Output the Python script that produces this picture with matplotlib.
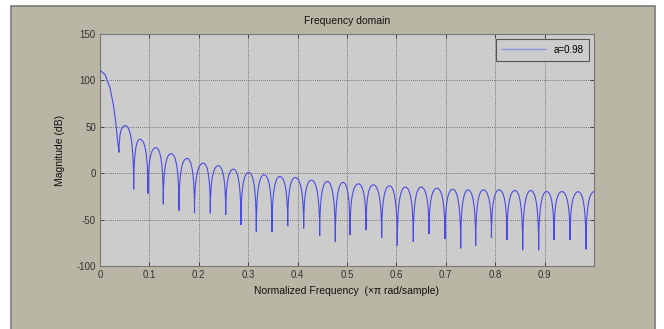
import matplotlib
matplotlib.use("Agg")
import matplotlib.pyplot as plt
from matplotlib.path import Path
from matplotlib.patches import PathPatch, Rectangle
from matplotlib.lines import Line2D

plt.rcParams['font.family'] = ['Liberation Sans', 'DejaVu Sans']
plt.rcParams['axes.unicode_minus'] = False

# main lobe, read point by point (normalized freq, dB)
main_f = [0.0, 0.0101, 0.0202, 0.027, 0.0317, 0.0358]
main_db = [110.8, 106.5, 92.0, 74.0, 56.0, 34.0]

# nulls between side lobes
null_f = [0.0385, 0.0682, 0.0972, 0.1281, 0.1599, 0.1913, 0.2233, 0.2545,
          0.2854, 0.3164, 0.3482, 0.3800, 0.4123, 0.4447, 0.4763, 0.5061,
          0.5385, 0.5702, 0.6018, 0.6342, 0.6660, 0.6984, 0.7302, 0.7605,
          0.7925, 0.8239, 0.8557, 0.8880, 0.9190, 0.9514, 0.9838]
null_db = [22.4, -17.3, -22.0, -33.5, -40.4, -43.0, -43.3, -45.0,
           -55.8, -63.0, -63.0, -57.0, -59.5, -67.7, -74.0, -66.7,
           -61.3, -69.6, -78.2, -74.0, -65.6, -71.0, -81.0, -78.2,
           -69.6, -72.0, -83.0, -83.0, -72.0, -72.0, -82.0]

# side lobe tops (last one is the half lobe ending at 1)
peak_f = [0.051, 0.081, 0.113, 0.144, 0.176, 0.209, 0.2395, 0.270,
          0.301, 0.332, 0.364, 0.395, 0.428, 0.460, 0.492, 0.523,
          0.553, 0.586, 0.618, 0.650, 0.682, 0.714, 0.745, 0.776,
          0.808, 0.840, 0.872, 0.904, 0.935, 0.968, 1.0]
peak_db = [51.3, 36.5, 27.5, 21.0, 15.9, 10.8, 8.0, 4.3,
           0.8, -1.7, -3.6, -4.7, -7.6, -9.0, -10.0, -11.5,
           -12.6, -13.6, -15.0, -15.0, -16.2, -17.3, -18.0, -18.0,
           -18.0, -18.7, -18.7, -19.8, -19.8, -20.0, -20.0]

line_col = '#4b4be6'
panel_col = '#b9b6a5'

fig = plt.figure(figsize=(6.64, 3.29), dpi=100, facecolor='white')
panel = Rectangle((11 / 664, -0.05), 644 / 664, 1 - 6 / 329 + 0.05,
                  transform=fig.transFigure, facecolor=panel_col,
                  edgecolor='#7a7a7a', linewidth=1.2)
panel.set_zorder(-10)
fig.add_artist(panel)

ax = fig.add_axes([100 / 664, 1 - 266 / 329, 494 / 664, 232 / 329])
ax.set_zorder(1)
ax.set_facecolor('#cccccc')

# build the curve: straight steps over the main lobe, arches for the side lobes
k, m = 0.72, 0.38
verts = [(main_f[0], main_db[0])]
codes = [Path.MOVETO]
for f, d in zip(main_f[1:], main_db[1:]):
    verts.append((f, d))
    codes.append(Path.LINETO)
verts.append((null_f[0], null_db[0]))
codes.append(Path.LINETO)
for i in range(len(peak_f)):
    xn, yn = null_f[i], null_db[i]
    xp, yp = peak_f[i], peak_db[i]
    verts += [(xn, yn + k * (yp - yn)), (xn + m * (xp - xn), yp), (xp, yp)]
    codes += [Path.CURVE4] * 3
    if i + 1 < len(null_f):
        xn, yn = null_f[i + 1], null_db[i + 1]
        verts += [(xn + m * (xp - xn), yp), (xn, yn + k * (yp - yn)), (xn, yn)]
        codes += [Path.CURVE4] * 3

ax.add_patch(PathPatch(Path(verts, codes), facecolor='none',
                       edgecolor=line_col, linewidth=0.8, zorder=3))

ax.set_xlim(0, 1)
ax.set_ylim(-100, 150)
ax.set_xticks([0, 0.1, 0.2, 0.3, 0.4, 0.5, 0.6, 0.7, 0.8, 0.9])
ax.set_xticklabels(['0', '0.1', '0.2', '0.3', '0.4', '0.5', '0.6', '0.7', '0.8', '0.9'])
ax.set_yticks([-100, -50, 0, 50, 100, 150])
ax.tick_params(direction='in', length=3, width=0.6, labelsize=7,
               colors='#333333', top=True, right=True, pad=3)
ax.grid(True, color='#555555', linestyle=(0, (1, 1.5)), linewidth=0.6)
for s in ax.spines.values():
    s.set_color('#777777')
    s.set_linewidth(0.8)

ax.set_title('Frequency domain', fontsize=7.5, color='#111111', pad=7)
ax.set_xlabel(u'Normalized Frequency  (\u00d7\u03c0 rad/sample)', fontsize=7.5,
              color='#111111', labelpad=4)
ax.set_ylabel('Magnitude (dB)', fontsize=7.5, color='#111111', labelpad=8)

leg = ax.legend([Line2D([], [], color='#8f96e0', linewidth=1.0)], ['a=0.98'],
                loc='upper right', fontsize=7, fancybox=False, framealpha=1,
                facecolor='#cccccc', edgecolor='#555555', handlelength=4.5,
                borderaxespad=0.5, borderpad=0.6)
leg.get_frame().set_linewidth(0.8)

fig.savefig('out.png', dpi=100, facecolor=fig.get_facecolor())
